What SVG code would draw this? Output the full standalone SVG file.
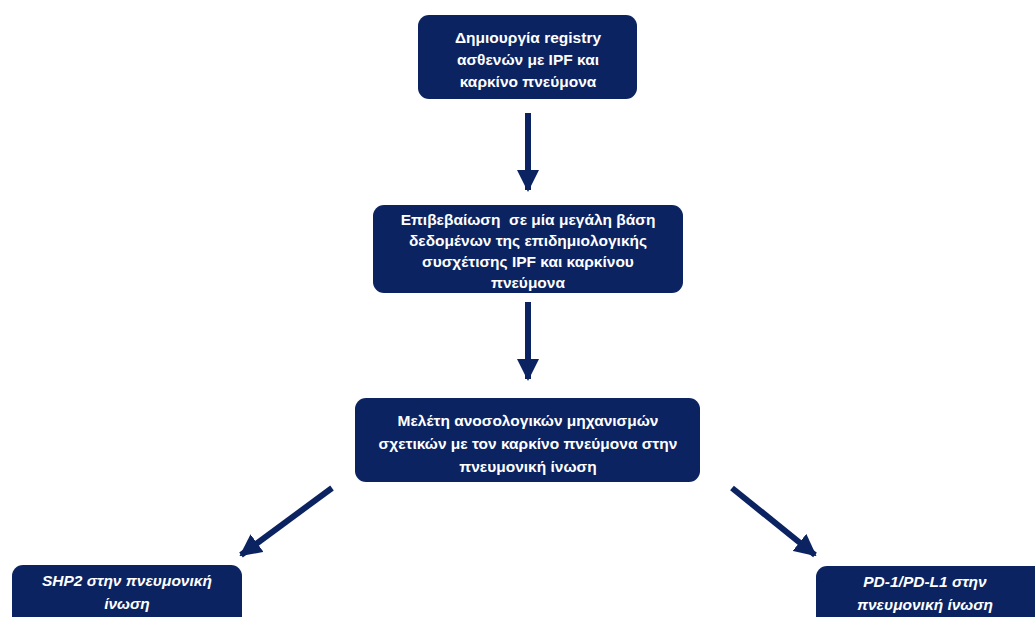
<svg xmlns="http://www.w3.org/2000/svg" width="1035" height="617" viewBox="0 0 1035 617">
<style>
.box{fill:#0b2361;}
.t{font-family:"Liberation Sans",Arial,sans-serif;font-weight:bold;font-size:15.5px;fill:#ffffff;text-anchor:middle;}
.i{font-style:italic;}
.c{stroke:#0b2361;stroke-width:6;fill:none;}
</style>
<defs>
<marker id="ah" markerUnits="userSpaceOnUse" markerWidth="22" markerHeight="22" viewBox="0 0 22 22" refX="20" refY="11" orient="auto">
<path d="M0,0 L22,11 L0,22 Z" fill="#0b2361"/>
</marker>
</defs>
<rect width="1035" height="617" fill="#ffffff"/>
<g id="connectors">
<line class="c" x1="528" y1="113" x2="528" y2="190" marker-end="url(#ah)"/>
<line class="c" x1="528" y1="302" x2="528" y2="379" marker-end="url(#ah)"/>
<line class="c" x1="332" y1="488" x2="241" y2="555" marker-end="url(#ah)"/>
<line class="c" x1="732" y1="488" x2="815" y2="555" marker-end="url(#ah)"/>
</g>
<g id="n1">
<rect class="box" x="418" y="15" width="219" height="84" rx="11"/>
<text class="t" x="528" y="43">Δημιουργία registry</text>
<text class="t" x="528" y="65">ασθενών με IPF και</text>
<text class="t" x="528" y="87">καρκίνο πνεύμονα</text>
</g>
<g id="n2">
<rect class="box" x="373" y="205" width="310" height="88" rx="11"/>
<text class="t" x="528" y="225" xml:space="preserve">Επιβεβαίωση  σε μία μεγάλη βάση</text>
<text class="t" x="528" y="246">δεδομένων της επιδημιολογικής</text>
<text class="t" x="528" y="267">συσχέτισης IPF και καρκίνου</text>
<text class="t" x="528" y="288">πνεύμονα</text>
</g>
<g id="n3">
<rect class="box" x="355" y="398" width="345" height="84" rx="11"/>
<text class="t" x="528" y="426">Μελέτη ανοσολογικών μηχανισμών</text>
<text class="t" x="528" y="449">σχετικών με τον καρκίνο πνεύμονα στην</text>
<text class="t" x="528" y="472">πνευμονική ίνωση</text>
</g>
<g id="n4">
<rect class="box" x="12" y="565" width="230" height="70" rx="11"/>
<text class="t i" x="127" y="586">SHP2 στην πνευμονική</text>
<text class="t i" x="127" y="609">ίνωση</text>
</g>
<g id="n5">
<rect class="box" x="816" y="566" width="230" height="70" rx="11"/>
<text class="t i" x="925" y="587">PD-1/PD-L1 στην</text>
<text class="t i" x="925" y="610">πνευμονική ίνωση</text>
</g>
</svg>
